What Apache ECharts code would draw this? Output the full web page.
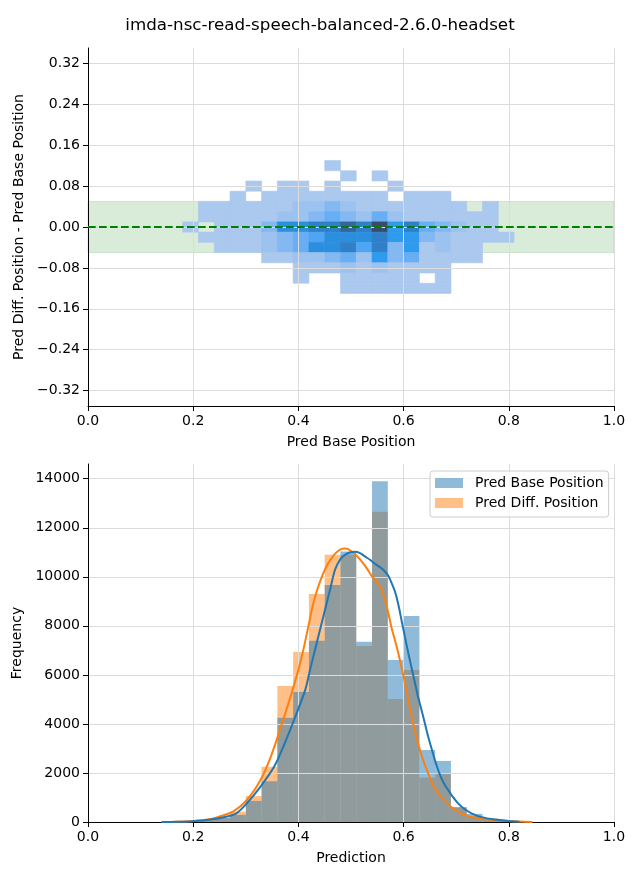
<!DOCTYPE html>
<html><head><meta charset="utf-8">
<script src="https://cdn.jsdelivr.net/npm/echarts@6/dist/echarts.min.js"></script>
<style>html,body{margin:0;padding:0;background:#fff}#c{width:640px;height:880px}</style>
</head><body><div id="c"></div>
<script>
// ---------------- data ----------------
const chartTitle = 'imda-nsc-read-speech-balanced-2.6.0-headset';

// 2D histogram (top): bin edges and relative density levels (0 = empty)
const heatXEdges = [0.18,0.21,0.24,0.27,0.30,0.33,0.36,0.39,0.42,0.45,0.48,0.51,0.54,0.57,0.60,0.63,0.66,0.69,0.72,0.75,0.78,0.81];
const heatYEdges = [0.13,0.11,0.09,0.07,0.05,0.03,0.01,-0.01,-0.03,-0.05,-0.07,-0.09,-0.11,-0.13]; // top -> bottom
const heatLevels = [
  [0,0,0,0,0,0,0,0,0,1,0,0,0,0,0,0,0,0,0,0,0],
  [0,0,0,0,0,0,0,0,0,0,1,0,1,0,0,0,0,0,0,0,0],
  [0,0,0,0,1,0,1,1,0,1,0,0,0,1,0,0,0,0,0,0,0],
  [0,0,0,1,0,1,1,1,1,1,1,1,1,0,1,1,1,0,0,0,0],
  [0,1,1,1,1,1,1,2,2,3,2,1,1,1,1,1,1,1,0,1,0],
  [0,1,1,1,1,1,2,2,3,4,3,2,4,2,1,1,1,1,1,1,0],
  [1,0,1,1,1,3,7,7,8,8,9,8,10,6,8,4,3,2,1,1,0],
  [0,1,1,1,1,2,3,4,5,7,7,7,8,6,6,3,2,1,1,1,1],
  [0,0,1,1,1,2,3,4,7,7,8,5,8,3,6,1,2,1,1,0,0],
  [0,0,0,0,0,1,1,2,2,3,4,2,6,3,4,1,1,1,1,0,0],
  [0,0,0,0,0,0,0,1,1,1,2,1,2,1,1,1,1,0,0,0,0],
  [0,0,0,0,0,0,0,1,0,0,1,1,1,1,1,0,1,0,0,0,0],
  [0,0,0,0,0,0,0,0,0,0,1,1,1,1,1,1,1,0,0,0,0]
];
const toleranceBand = [-0.05, 0.05];
const zeroLine = 0;
const topYTicks = [-0.32,-0.24,-0.16,-0.08,0,0.08,0.16,0.24,0.32];

// 1D histograms (bottom)
const histEdges = [0.15,0.18,0.21,0.24,0.27,0.30,0.33,0.36,0.39,0.42,0.45,0.48,0.51,0.54,0.57,0.60,0.63,0.66,0.69,0.72,0.75,0.78,0.81,0.84];
const baseCounts = [15,40,80,160,290,860,1660,4250,5300,7390,9670,11030,7350,13900,6610,8400,2940,2490,600,330,140,50,15];
const diffCounts = [10,30,80,200,420,1060,2250,5550,6930,9300,10900,10900,7180,12650,5020,6200,1810,1990,610,240,110,50,20];
const baseKde = [[0.140,0],[0.17,10],[0.20,35],[0.23,90],[0.2625,218],[0.282,354],[0.302,762],[0.328,1442],[0.354,2259],[0.374,3211],[0.393,4231],[0.413,5388],[0.4221,6204],[0.4316,7020],[0.4411,7837],[0.4506,8653],[0.4601,9469],[0.4696,10286],[0.4791,10694],[0.4886,10898],[0.4981,10993],[0.5076,11020],[0.5171,10966],[0.5266,10830],[0.5361,10694],[0.5456,10531],[0.5551,10395],[0.5646,10218],[0.5709,10041],[0.5773,9741],[0.5836,9400],[0.5900,8870],[0.5963,8200],[0.6027,7530],[0.6090,6880],[0.6153,6270],[0.6217,5660],[0.6274,5116],[0.6340,4571],[0.6404,4027],[0.6467,3483],[0.6530,3007],[0.6594,2531],[0.6657,2122],[0.6720,1782],[0.6784,1510],[0.6847,1306],[0.6911,1102],[0.7037,762],[0.7164,517],[0.7291,354],[0.7481,200],[0.7734,100],[0.7988,45],[0.82,15]];
const diffKde = [[0.14,0],[0.17,10],[0.20,40],[0.23,110],[0.249,218],[0.2756,422],[0.302,898],[0.328,1714],[0.3476,2667],[0.367,3891],[0.387,5252],[0.3999,6204],[0.4094,7020],[0.4189,7973],[0.4284,8925],[0.4379,9605],[0.4474,10150],[0.4569,10558],[0.4664,10857],[0.4759,11061],[0.4854,11156],[0.4930,11143],[0.5013,11034],[0.5108,10857],[0.5203,10626],[0.5298,10354],[0.5393,10041],[0.5488,9809],[0.5583,9469],[0.5646,9061],[0.5710,8517],[0.5773,7905],[0.5837,7400],[0.5900,6880],[0.5963,6270],[0.6027,5660],[0.6090,4980],[0.6153,4299],[0.6217,3687],[0.6274,3211],[0.6340,2735],[0.6404,2327],[0.6467,1986],[0.6530,1646],[0.6594,1374],[0.6657,1170],[0.6720,1007],[0.6784,871],[0.6847,735],[0.6911,599],[0.7037,422],[0.7164,286],[0.7354,170],[0.7608,100],[0.7924,50],[0.82,20],[0.845,5]];
const bottomYTicks = [0,2000,4000,6000,8000,10000,12000,14000];

// ---------------- styles ----------------
const FONT = 'DejaVu Sans';
const heatColors = ['#abc8ee','#9cc2f0','#83b8f2','#68aef4','#4da5f3','#2f9bef','#2b8fe0','#2f80c8','#36649a','#3c4a6a'];
const BLUE = '#1f77b4', ORANGE = '#ff7f0e';
const BLUE_A = 'rgba(31,119,180,0.5)', ORANGE_A = 'rgba(255,127,14,0.5)';
const GRIDC = '#dcdcdc';

// ---------------- build ----------------
const heatData = [];
heatLevels.forEach((row, r) => row.forEach((lv, c) => {
  if (lv > 0) heatData.push([heatXEdges[c], heatXEdges[c+1], heatYEdges[r+1], heatYEdges[r], lv]);
}));
const baseBars = baseCounts.map((v,i) => [histEdges[i], histEdges[i+1], v]);
const diffBars = diffCounts.map((v,i) => [histEdges[i], histEdges[i+1], v]);

function xAxisCfg(grid, name) {
  return {
    gridIndex: grid, type: 'value', min: 0, max: 1, interval: 0.2, z: 3,
    name: name, nameLocation: 'middle', nameGap: 29,
    nameTextStyle: {fontSize: 14, color: '#000', fontFamily: FONT},
    axisLine: {show: true, onZero: false, lineStyle: {color: '#000', width: 1}},
    axisTick: {show: true, length: 5, lineStyle: {color: '#000', width: 1}},
    axisLabel: {fontSize: 14, color: '#000', margin: 8, fontFamily: FONT, formatter: v => v.toFixed(1)},
    splitLine: {show: true, lineStyle: {color: GRIDC, width: 1}}
  };
}
function yAxisCfg(grid, name, min, max, ticks, fmt) {
  return {
    gridIndex: grid, type: 'value', min: min, max: max, z: 3,
    name: name, nameLocation: 'middle', nameGap: 56, nameRotate: 90,
    nameTextStyle: {fontSize: 14, color: '#000', fontFamily: FONT},
    axisLine: {show: true, onZero: false, lineStyle: {color: '#000', width: 1}},
    axisTick: {show: true, length: 5, customValues: ticks, lineStyle: {color: '#000', width: 1}},
    axisLabel: {fontSize: 14, color: '#000', margin: 8, fontFamily: FONT, customValues: ticks, formatter: fmt},
    splitLine: {show: true, lineStyle: {color: GRIDC, width: 1}}
  };
}
const signFmt = v => (v < -1e-9 ? '\u2212' : '') + Math.abs(v).toFixed(2);

function rectItem(api, fill) {
  const a = api.coord([api.value(0), api.value(3)]);
  const b = api.coord([api.value(1), api.value(2)]);
  return {type: 'rect', shape: {x: a[0], y: a[1], width: b[0]-a[0], height: b[1]-a[1]},
          style: {fill: fill, stroke: fill, lineWidth: 0.6}};
}
function barItem(api, fill) {
  const a = api.coord([api.value(0), api.value(2)]);
  const b = api.coord([api.value(1), 0]);
  return {type: 'rect', shape: {x: a[0], y: a[1], width: b[0]-a[0], height: b[1]-a[1]}, style: {fill: fill}};
}

const option = {
  animation: false,
  backgroundColor: '#fff',
  textStyle: {fontFamily: FONT},
  title: {text: chartTitle, left: 'center', top: 17, padding: 0,
          textStyle: {fontSize: 16.7, fontWeight: 'normal', color: '#000', fontFamily: FONT}},
  grid: [
    {left: 88, top: 48, width: 526, height: 358},
    {left: 88, top: 464, width: 526, height: 358}
  ],
  xAxis: [xAxisCfg(0, 'Pred Base Position'), xAxisCfg(1, 'Prediction')],
  yAxis: [
    yAxisCfg(0, 'Pred Diff. Position - Pred Base Position', -0.35, 0.35, topYTicks, signFmt),
    yAxisCfg(1, 'Frequency', 0, 14600, bottomYTicks, v => String(v))
  ],
  visualMap: [{type: 'continuous', show: false, seriesIndex: 0, dimension: 4, min: 1, max: 10,
               inRange: {color: heatColors}}],
  legend: {
    left: 430, top: 471, orient: 'vertical', itemWidth: 28, itemHeight: 10, itemGap: 6,
    padding: [5, 5, 7, 5], borderColor: '#cccccc', borderWidth: 1, borderRadius: 3,
    backgroundColor: 'rgba(255,255,255,0.8)',
    textStyle: {fontSize: 14, color: '#000', fontFamily: FONT, lineHeight: 14, padding: [0,0,0,7]},
    data: [{name: 'Pred Base Position', icon: 'rect'}, {name: 'Pred Diff. Position', icon: 'rect'}]
  },
  series: [
    {
      type: 'custom', name: 'heat', xAxisIndex: 0, yAxisIndex: 0, z: 2,
      data: heatData, encode: {x: [0,1], y: [2,3]},
      renderItem: (p, api) => rectItem(api, api.visual('color')),
      markArea: {silent: true, z: 1, itemStyle: {color: 'rgba(0,128,0,0.15)', borderColor: 'rgba(0,128,0,0.15)', borderWidth: 1},
                 data: [[{yAxis: toleranceBand[0]}, {yAxis: toleranceBand[1]}]]},
      markLine: {silent: true, symbol: 'none', z: 5, label: {show: false},
                 lineStyle: {color: '#008000', type: [7.7, 3.3], width: 2},
                 data: [{yAxis: zeroLine}]}
    },
    {
      type: 'custom', name: 'Pred Diff. Position', xAxisIndex: 1, yAxisIndex: 1, z: 2,
      itemStyle: {color: ORANGE_A}, data: diffBars, encode: {x: [0,1], y: 2},
      renderItem: (p, api) => barItem(api, ORANGE_A)
    },
    {
      type: 'custom', name: 'Pred Base Position', xAxisIndex: 1, yAxisIndex: 1, z: 2,
      itemStyle: {color: BLUE_A}, data: baseBars, encode: {x: [0,1], y: 2},
      renderItem: (p, api) => barItem(api, BLUE_A)
    },
    {
      type: 'line', name: 'diff kde', xAxisIndex: 1, yAxisIndex: 1, z: 4, data: diffKde,
      showSymbol: false, smooth: 0.3, lineStyle: {color: ORANGE, width: 2}, itemStyle: {color: ORANGE}
    },
    {
      type: 'line', name: 'base kde', xAxisIndex: 1, yAxisIndex: 1, z: 4, data: baseKde,
      showSymbol: false, smooth: 0.3, lineStyle: {color: BLUE, width: 2}, itemStyle: {color: BLUE}
    }
  ]
};
const chart = echarts.init(document.getElementById('c'), null, {renderer: 'canvas'});
chart.setOption(option);
</script></body></html>
